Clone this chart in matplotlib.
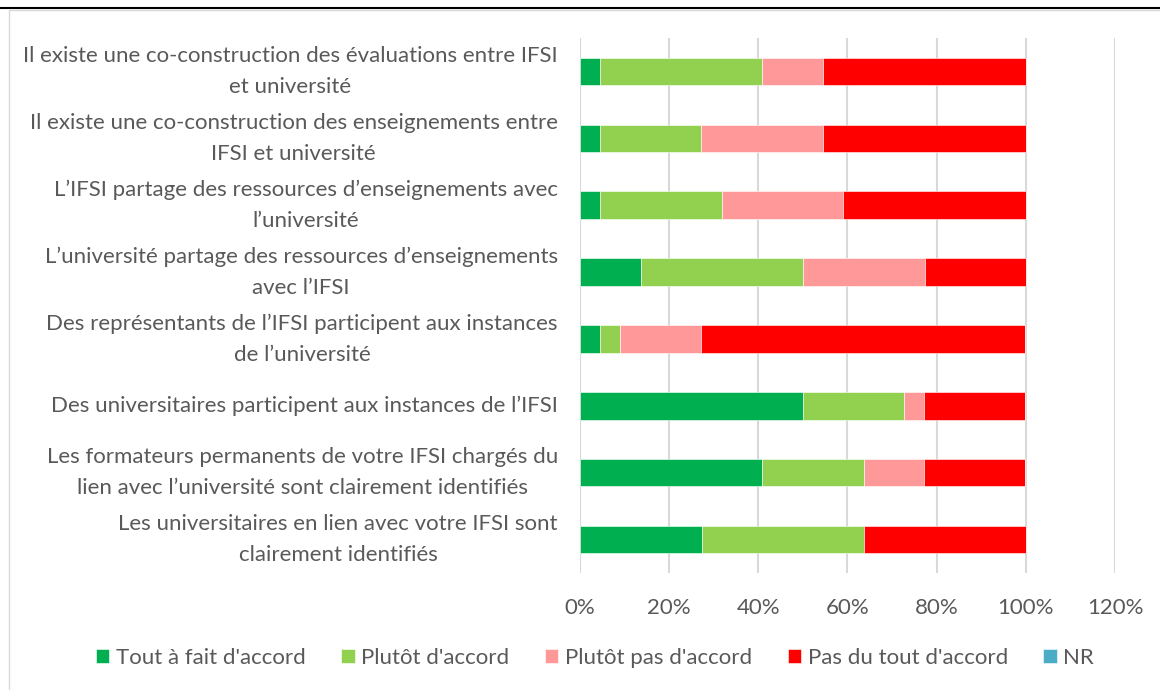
import matplotlib.pyplot as plt
from matplotlib.patches import Rectangle
from matplotlib.lines import Line2D
import numpy as np

plt.rcParams['font.family'] = ['Lato', 'DejaVu Sans']

categories = [
    "Il existe une co-construction des évaluations entre IFSI\net université",
    "Il existe une co-construction des enseignements entre\nIFSI et université",
    "L’IFSI partage des ressources d’enseignements avec\nl’université",
    "L’université partage des ressources d’enseignements\navec l’IFSI",
    "Des représentants de l’IFSI participent aux instances\nde l’université",
    "Des universitaires participent aux instances de l’IFSI",
    "Les formateurs permanents de votre IFSI chargés du\nlien avec l’université sont clairement identifiés",
    "Les universitaires en lien avec votre IFSI sont\nclairement identifiés",
]

tout_a_fait = [4.5, 4.5, 4.5, 13.6, 4.5, 50.0, 40.9, 27.3]
plutot = [36.4, 22.7, 27.3, 36.4, 4.5, 22.7, 22.7, 36.4]
plutot_pas = [13.6, 27.3, 27.3, 27.3, 18.2, 4.5, 13.6, 0.0]
pas_du_tout = [45.5, 45.5, 40.9, 22.7, 72.7, 22.7, 22.7, 36.4]
nr = [0, 0, 0, 0, 0, 0, 0, 0]

series = [
    ("Tout à fait d'accord", tout_a_fait, "#00B050"),
    ("Plutôt d'accord", plutot, "#92D050"),
    ("Plutôt pas d'accord", plutot_pas, "#FF9999"),
    ("Pas du tout d'accord", pas_du_tout, "#FF0000"),
    ("NR", nr, "#4BACC6"),
]

fig = plt.figure(figsize=(11.6, 6.9), dpi=100)
ax = fig.add_axes([0.5, 0.1696, 0.4612, 0.7753])

y = np.arange(len(categories))
left = np.zeros(len(categories))
for name, vals, color in series:
    vals = np.array(vals) / 100
    ax.barh(y, vals, left=left, height=0.41, color=color, label=name,
            edgecolor="white", linewidth=0.4, zorder=3)
    left += vals

ax.set_xlim(0, 1.2)
ax.set_ylim(len(categories) - 0.5, -0.5)
ax.set_xticks(np.arange(0, 1.21, 0.2))
ax.set_xticklabels([f"{int(round(v * 100))}%" for v in np.arange(0, 1.21, 0.2)])
ax.set_yticks(y)
ax.set_yticklabels(categories)
for t in ax.get_yticklabels():
    t.set_multialignment("center")
    t.set_linespacing(1.7)
    t.set_verticalalignment("center")

ax.tick_params(axis="both", length=0, labelsize=16, colors="#595959")
ax.tick_params(axis="y", pad=16)
ax.tick_params(axis="x", pad=18)
ax.grid(axis="x", color="#D9D9D9", linewidth=1.5, zorder=0)
for s in ax.spines.values():
    s.set_visible(False)

# outer chart frame and rule above it
fig.add_artist(Rectangle((9 / 1160, -0.01), 1.02, 1 - 10 / 690 + 0.01,
                         transform=fig.transFigure, fill=False,
                         edgecolor="#D9D9D9", linewidth=1))
fig.add_artist(Line2D([0, 1], [1 - 8 / 690, 1 - 8 / 690],
                      transform=fig.transFigure, color="black", linewidth=1.5))

fig.legend(loc="center", bbox_to_anchor=(0.513, 0.046), ncol=5, frameon=False,
           fontsize=16, handlelength=0.6, handleheight=0.6, handletextpad=0.3,
           columnspacing=1.6, labelcolor="#595959")

fig.savefig("out.png", dpi=100)
